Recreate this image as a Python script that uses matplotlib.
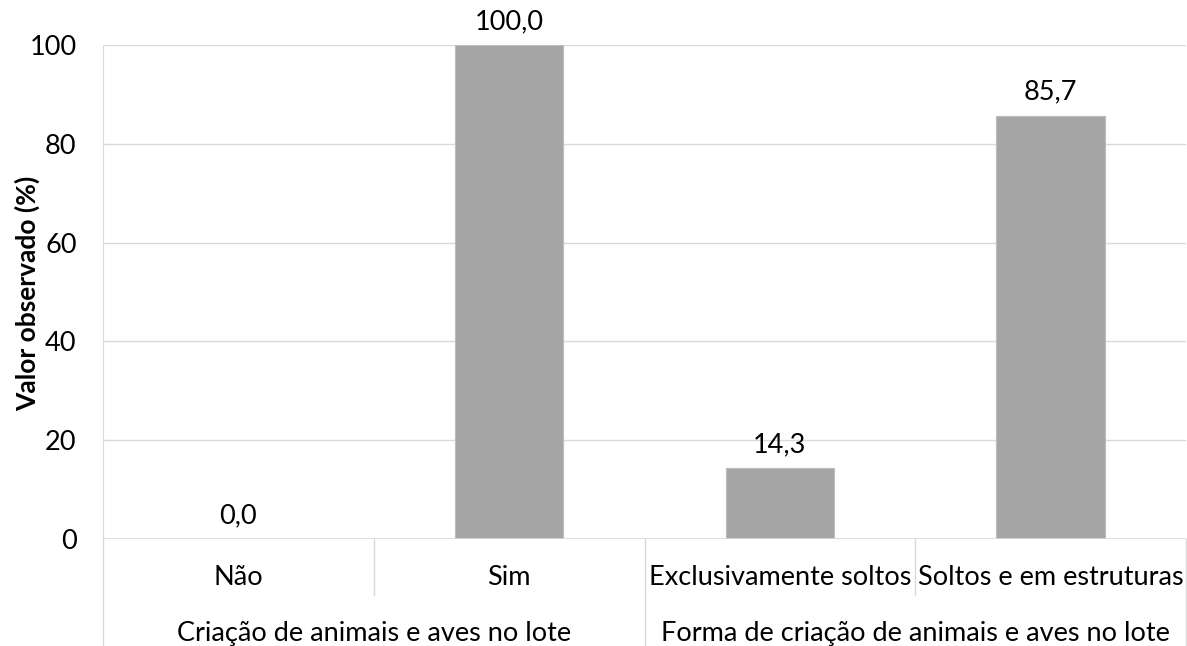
import numpy as np
import matplotlib.pyplot as plt
from matplotlib.transforms import blended_transform_factory

# dados
categorias = ['Não', 'Sim', 'Exclusivamente soltos', 'Soltos e em estruturas']
valores = [0.0, 100.0, 14.3, 85.7]
grupos = ['Criação de animais e aves no lote', 'Forma de criação de animais e aves no lote']
grupo_tam = [2, 2]

plt.rcParams['font.family'] = ['Lato', 'DejaVu Sans']
fs = 19.5

fig = plt.figure(figsize=(11.87, 6.46), dpi=100)
ax = fig.add_axes([103 / 1187, 107 / 646, 1083 / 1187, 494 / 646])

x = np.arange(len(categorias))
ax.bar(x, valores, width=0.4, color='#A5A5A5', edgecolor='#BDBDBD', linewidth=0.8, zorder=3)

for xi, v in zip(x, valores):
    ax.annotate(f'{v:.1f}'.replace('.', ','), (xi, v), xytext=(0, 8),
                textcoords='offset points', ha='center', va='bottom', fontsize=fs)

ax.set_xlim(-0.5, len(categorias) - 0.5)
ax.set_ylim(0, 100)
ax.set_yticks(np.arange(0, 101, 20))
ax.tick_params(axis='y', length=0, labelsize=fs, pad=19)
ax.set_xticks([])
ax.grid(axis='y', color='#D9D9D9', linewidth=1, zorder=0)
for s in ['top', 'right', 'bottom']:
    ax.spines[s].set_visible(False)
ax.spines['left'].set_color('#D9D9D9')
ax.axhline(0, color='#D9D9D9', linewidth=1.2, zorder=4)
fig.text(27 / 1187, 1 - 293 / 646, 'Valor observado (%)', rotation=90, ha='center', va='center',
         fontsize=19, fontweight='bold')

# eixo de categorias em dois níveis
trans = blended_transform_factory(ax.transData, ax.transAxes)
for xi, cat in zip(x, categorias):
    ax.text(xi, -0.077, cat, transform=trans, ha='center', va='center', fontsize=fs)

inicio = -0.5
for g, n in zip(grupos, grupo_tam):
    ax.text(inicio + n / 2, -0.192, g, transform=trans, ha='center', va='center', fontsize=fs)
    ax.plot([inicio, inicio], [0, -0.22], transform=trans, color='#D9D9D9', lw=1, clip_on=False)
    for k in range(1, n):
        ax.plot([inicio + k, inicio + k], [0, -0.113], transform=trans, color='#D9D9D9', lw=1, clip_on=False)
    inicio += n
ax.plot([inicio, inicio], [0, -0.22], transform=trans, color='#D9D9D9', lw=1, clip_on=False)

fig.savefig('out.png', dpi=100)
